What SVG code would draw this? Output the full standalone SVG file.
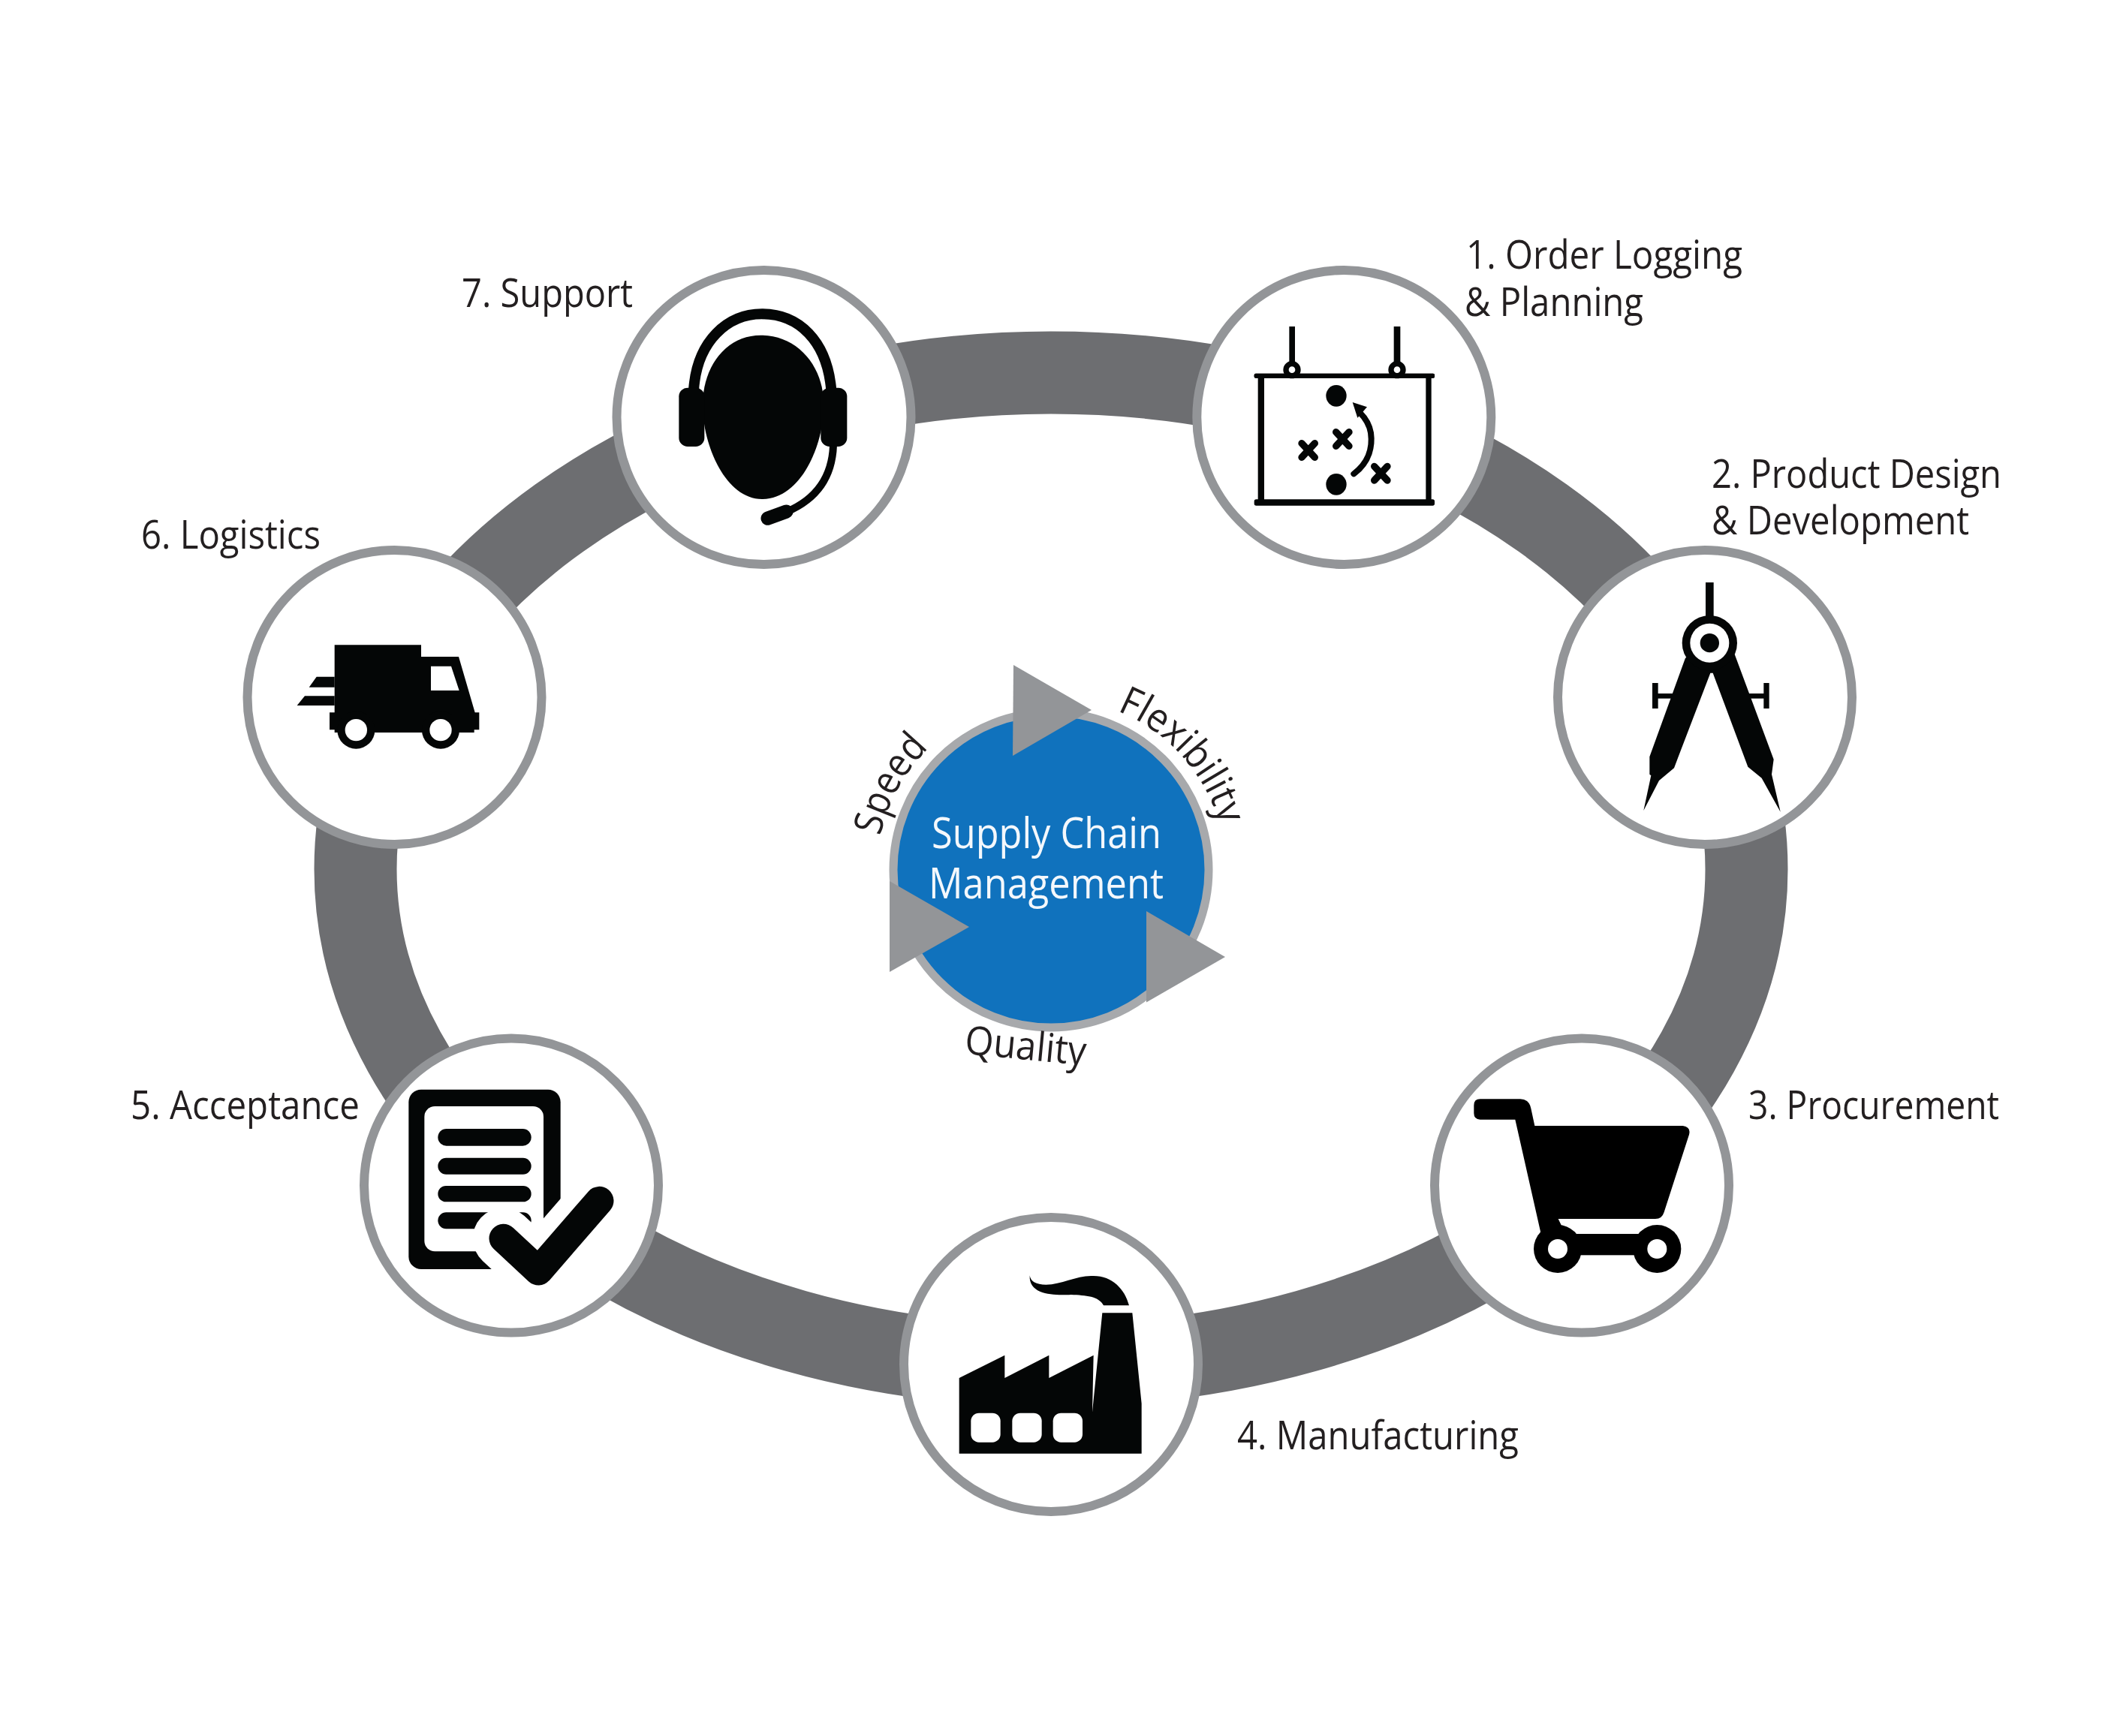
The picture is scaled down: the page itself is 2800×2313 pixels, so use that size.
<svg xmlns="http://www.w3.org/2000/svg" width="2800" height="2313" viewBox="0 0 2800 2313">
<style>
.disc{fill:#fff;stroke:#939598;stroke-width:12}
.lbl{font-family:"Open Sans","Noto Sans",sans-serif;font-size:53px;fill:#231f20}
.ctr{font-family:"Open Sans","Noto Sans",sans-serif;font-size:56px;fill:#f4f8fc}
.tri{fill:#939598}
.k{fill:#040606}
.w{fill:#fff}
.ks{fill:none;stroke:#040606}
</style>
<defs>
<path id="arcSpeed" d="M1172.7,1114 A232,232 0 0 1 1284,961"/>
<path id="arcFlex" d="M1488,947 A233,233 0 0 1 1634,1161"/>
</defs>
<rect width="2800" height="2313" fill="#fff"/>
<g id="connectors">
<ellipse cx="1400" cy="1158" rx="926.5" ry="661.5" fill="none" stroke="#6d6e71" stroke-width="110"/>
</g>
<g id="node-center">
<circle cx="1400" cy="1159" r="210" fill="#1072bd" stroke="#a7a9ac" stroke-width="11"/>
<polygon class="tri" points="1350,886 1454,946 1349,1007"/>
<polygon class="tri" points="1185,1174 1291,1235 1185,1295"/>
<polygon class="tri" points="1527,1214 1632,1275 1527,1335.5"/>
<text class="ctr" x="1241" y="1130" textLength="306" lengthAdjust="spacingAndGlyphs">Supply Chain</text>
<text class="ctr" x="1237" y="1197" textLength="313" lengthAdjust="spacingAndGlyphs">Management</text>
<text class="lbl"><textPath href="#arcSpeed" textLength="136" lengthAdjust="spacingAndGlyphs">Speed</textPath></text>
<text class="lbl"><textPath href="#arcFlex" textLength="212" lengthAdjust="spacingAndGlyphs">Flexibility</textPath></text>
<text class="lbl" transform="translate(1284,1404) rotate(5.4)" textLength="162" lengthAdjust="spacingAndGlyphs">Quality</text>
</g>
<g id="node-1">
<circle class="disc" cx="1790.3" cy="556" r="196"/>
<g transform="translate(1580,340) scale(.33333)">
<rect class="k" x="272" y="473" width="721" height="18" rx="6"/>
<rect class="k" x="272" y="976" width="721" height="25" rx="8"/>
<rect class="k" x="287" y="480" width="25" height="510"/>
<rect class="k" x="958" y="480" width="22" height="510"/>
<rect class="k" x="412" y="285" width="23" height="150"/>
<rect class="k" x="830" y="285" width="26" height="150"/>
<circle class="w" cx="423" cy="458" r="24" stroke="#040606" stroke-width="22"/>
<circle class="w" cx="843" cy="458" r="24" stroke="#040606" stroke-width="22"/>
<rect class="k" x="272" y="473" width="721" height="18" rx="6"/>
<ellipse class="k" cx="600" cy="562" rx="41" ry="43"/>
<ellipse class="k" cx="600" cy="916" rx="41" ry="43"/>
<path class="ks" stroke-width="28" stroke-linecap="round" d="M462,752 L514,808 M514,752 L462,808 M599,707 L651,763 M651,707 L599,763 M752,844 L804,900 M804,844 L752,900"/>
<path class="ks" stroke-width="24" stroke-linecap="round" d="M670,874 C735,825 745,760 738,710 C732,675 715,650 695,630"/>
<polygon class="k" points="665,588 723,607 685,650"/>
</g>
</g>
<g id="node-2">
<circle class="disc" cx="2271" cy="929" r="196"/>
<g transform="translate(2060,720) scale(.33333)">
<rect class="k" x="636" y="168" width="32" height="140"/>
<rect class="k" x="423" y="570" width="23" height="102"/>
<rect class="k" x="440" y="612" width="80" height="20"/>
<rect class="k" x="868" y="570" width="22" height="102"/>
<rect class="k" x="805" y="612" width="70" height="20"/>
<polygon class="k" points="555,470 412,865 412,935 418,940 388,1080 450,960 510,910 525,870 655,530 665,530 805,905 860,950 935,1085 900,935 908,875 752,455 650,420"/>
<circle class="k" cx="652" cy="410" r="110"/>
<circle class="w" cx="652" cy="410" r="78"/>
<circle class="k" cx="652" cy="410" r="38"/>
</g>
</g>
<g id="node-3">
<circle class="disc" cx="2107" cy="1579.5" r="196"/>
<g transform="translate(1900,1360) scale(.33333)">
<path fill="#000" d="M215,313 H375 Q410,313 418,350 L433,420 H1025 Q1058,425 1050,455 L950,765 Q942,792 915,792 H527 L560,860 H460 L355,395 H215 Q190,395 190,370 V338 Q190,313 215,313 Z"/>
<rect fill="#000" x="560" y="852" width="320" height="85"/>
<circle fill="#000" cx="525" cy="912" r="96"/>
<circle fill="#000" cx="922" cy="912" r="96"/>
<circle class="w" cx="525" cy="912" r="39"/>
<circle class="w" cx="922" cy="912" r="39"/>
</g>
</g>
<g id="node-4">
<circle class="disc" cx="1400" cy="1818" r="196"/>
<g transform="translate(1180,1600) scale(.33333)">
<path class="k" d="M293,708 L475,617 V708 L652,617 V708 L830,617 L825,845 L865,448 H985 L1022,810 V1010 H293 Z"/>
<rect class="w" x="340" y="848" width="118" height="117" rx="32"/>
<rect class="w" x="505" y="848" width="118" height="117" rx="32"/>
<rect class="w" x="668" y="848" width="118" height="117" rx="32"/>
<path class="k" d="M575,298 Q580,335 640,335 C700,335 760,300 820,300 C900,295 955,350 972,418 H870 C850,380 800,378 740,375 C680,378 570,380 575,298 Z"/>
</g>
</g>
<g id="node-5">
<circle class="disc" cx="681" cy="1579.5" r="196"/>
<g transform="translate(460,1360) scale(.33333)">
<rect class="k" x="253" y="275" width="607" height="718" rx="50"/>
<rect class="w" x="316" y="342" width="476" height="580" rx="42"/>
<rect class="k" x="370" y="432" width="373" height="68" rx="34"/>
<rect class="k" x="370" y="548" width="373" height="66" rx="33"/>
<rect class="k" x="370" y="660" width="373" height="64" rx="32"/>
<rect class="k" x="370" y="766" width="373" height="66" rx="33"/>
<polyline points="632,870 772,1000 1015,720" fill="none" stroke="#fff" stroke-width="245" stroke-linecap="round" stroke-linejoin="round"/>
<polyline class="ks" points="632,870 772,1000 1015,720" stroke-width="115" stroke-linecap="round" stroke-linejoin="round"/>
</g>
</g>
<g id="node-6">
<circle class="disc" cx="525.5" cy="929" r="196"/>
<g transform="translate(300,720) scale(.33333)">
<path class="k" d="M437,418 H783 V465 H933 L998,688 H1015 V757 H995 V768 H437 V757 H417 V688 H437 Z"/>
<polygon class="w" points="822,503 903,503 935,600 822,600"/>
<polygon class="k" points="335,587 365,545 437,545 437,587"/>
<polygon class="k" points="287,660 318,622 437,622 437,660"/>
<circle class="k" cx="523" cy="758" r="75"/>
<circle class="k" cx="861" cy="758" r="75"/>
<circle class="w" cx="523" cy="758" r="44"/>
<circle class="w" cx="861" cy="758" r="44"/>
</g>
</g>
<g id="node-7">
<circle class="disc" cx="1017.5" cy="556" r="196"/>
<g transform="translate(800,340) scale(.33333)">
<path class="k" d="M640,320 C785,320 892,440 892,600 C892,760 800,975 645,975 C500,975 408,760 408,600 C408,440 505,320 640,320 Z"/>
<path class="ks" stroke-width="42" d="M372,540 C385,340 510,235 645,235 C790,235 905,340 922,540"/>
<rect class="k" x="313" y="530" width="102" height="235" rx="35"/>
<rect class="k" x="880" y="530" width="105" height="235" rx="35"/>
<path class="ks" stroke-width="30" d="M930,760 C925,900 850,980 745,1025"/>
<path class="ks" stroke-width="55" stroke-linecap="round" d="M668,1052 L742,1025"/>
</g>
</g>
<g id="labels">
<text class="lbl" x="1953" y="358" textLength="368" lengthAdjust="spacingAndGlyphs">1. Order Logging</text>
<text class="lbl" x="1951" y="421" textLength="238" lengthAdjust="spacingAndGlyphs">&amp; Planning</text>
<text class="lbl" x="2280" y="650" textLength="386" lengthAdjust="spacingAndGlyphs">2. Product Design</text>
<text class="lbl" x="2280" y="712" textLength="343" lengthAdjust="spacingAndGlyphs">&amp; Development</text>
<text class="lbl" x="2329" y="1491" textLength="334" lengthAdjust="spacingAndGlyphs">3. Procurement</text>
<text class="lbl" x="1648" y="1931" textLength="375" lengthAdjust="spacingAndGlyphs">4. Manufacturing</text>
<text class="lbl" x="174" y="1491" textLength="305" lengthAdjust="spacingAndGlyphs">5. Acceptance</text>
<text class="lbl" x="188" y="731" textLength="239" lengthAdjust="spacingAndGlyphs">6. Logistics</text>
<text class="lbl" x="615" y="409" textLength="228" lengthAdjust="spacingAndGlyphs">7. Support</text>
</g>
</svg>
